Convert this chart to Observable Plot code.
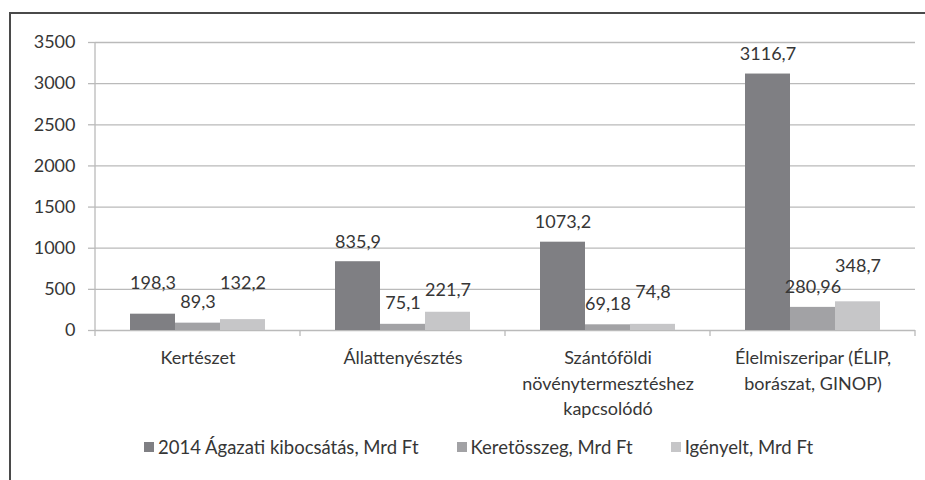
<!DOCTYPE html>
<html><head><meta charset="utf-8">
<script src="https://cdn.jsdelivr.net/npm/d3@7"></script>
<script src="https://cdn.jsdelivr.net/npm/@observablehq/plot@0.6"></script>
<style>
body{margin:0;background:#fff;}
#wrap{position:relative;width:925px;height:480px;overflow:hidden;font-family:Lato,sans-serif;background:#fff;}
#border{position:absolute;left:9px;top:12px;right:-5px;bottom:-5px;border-left:2px solid #4a4a4a;border-top:2px solid #4a4a4a;pointer-events:none;}
#legend{position:absolute;left:144px;top:436px;}
.lgd-swatches-wrap{min-height:0 !important;}
.lgd-swatch{margin-right:38px !important;}
.lgd-swatch > svg{margin-right:4px !important;}
</style></head>
<body><div id="wrap"><div id="chart"></div><div id="legend"></div><div id="border"></div></div>
<script>
// ---- data ----
const categories = ["Kertészet", "Állattenyésztés", "Szántóföldi növénytermesztéshez kapcsolódó", "Élelmiszeripar (ÉLIP, borászat, GINOP)"];
const categoryLabels = ["Kertészet", "Állattenyésztés", "Szántóföldi\nnövénytermesztéshez\nkapcsolódó", "Élelmiszeripar (ÉLIP,\nborászat, GINOP)"];
const series = ["2014 Ágazati kibocsátás, Mrd Ft", "Keretösszeg, Mrd Ft", "Igényelt, Mrd Ft"];
const outputValues = [198.3, 835.9, 1073.2, 3116.7];
const frameValues = [89.3, 75.1, 69.18, 280.96];
const claimedValues = [132.2, 221.7, 74.8, 348.7];
const yTicks = [0, 500, 1000, 1500, 2000, 2500, 3000, 3500];

// ---- styling / layout ----
const colors = ["#7f7f83", "#a2a2a5", "#c6c6c8"];
const textColor = "#363636";
const gridColor = "#bababa";
const fontSize = 18;
const liftOutput = [31, 19, 20, 20];
const liftFrame = [21, 21, 21, 20];
const liftClaimed = [36, 22, 32, 36];

const valueSets = [outputValues, frameValues, claimedValues];
const liftSets = [liftOutput, liftFrame, liftClaimed];
const rows = [];
categories.forEach((c, i) => series.forEach((s, j) => rows.push({
  category: c, series: s, value: valueSets[j][i], lift: liftSets[j][i]
})));
const fmt = v => String(v).replace(".", ",");

const labelMarks = d3.groups(rows, d => d.lift).map(([lift, g]) =>
  Plot.text(g, {fx: "category", x: "series", y: "value", text: d => fmt(d.value),
    dy: -lift, fill: textColor, fontSize}));

const chart = Plot.plot({
  width: 925, height: 425,
  marginLeft: 95, marginRight: 10, marginTop: 42, marginBottom: 95,
  style: {fontFamily: "Lato, sans-serif", fontSize: fontSize + "px", color: textColor, background: "transparent"},
  fx: {domain: categories, padding: 0, axis: null},
  x: {domain: series, paddingInner: 0, paddingOuter: 0.75, axis: null},
  y: {domain: [0, 3500]},
  color: {domain: series, range: colors},
  marks: [
    Plot.gridY(yTicks, {stroke: gridColor, strokeOpacity: 1, strokeWidth: 1.3}),
    Plot.axisY(yTicks, {tickSize: 7, tickPadding: 13, stroke: gridColor, strokeWidth: 1.3,
      fill: textColor, label: null, tickFormat: d => String(d), fontSize}),
    Plot.barY(rows, {fx: "category", x: "series", y: "value", fill: "series"}),
    ...labelMarks,
    Plot.text(categories, {fx: d => d, text: (d, i) => categoryLabels[i], frameAnchor: "bottom",
      lineAnchor: "top", dy: 16, lineHeight: 1.4, fill: textColor, fontSize})
  ]
});
document.getElementById("chart").appendChild(chart);

// category axis line with boundary ticks and the value axis line, placed from Plot's scales
const fxs = chart.scale("fx");
const ys = chart.scale("y");
const y0 = ys.apply(0), yTop = ys.apply(3500);
const bounds = categories.map(c => fxs.apply(c)).concat(fxs.apply(categories[categories.length - 1]) + fxs.bandwidth);
const g = d3.select(chart).append("g").attr("stroke", gridColor).attr("stroke-width", 1.3);
g.selectAll("line.t").data(bounds).join("line")
  .attr("x1", d => d).attr("x2", d => d).attr("y1", y0).attr("y2", y0 + 6);
g.append("line").attr("x1", bounds[0]).attr("x2", bounds[0]).attr("y1", yTop).attr("y2", y0);

const legend = Plot.legend({
  color: {domain: series, range: colors}, swatchSize: 10, className: "lgd",
  style: {fontFamily: "Lato, sans-serif", fontSize: "18.5px", color: textColor}
});
document.getElementById("legend").appendChild(legend);
</script>
</body></html>
